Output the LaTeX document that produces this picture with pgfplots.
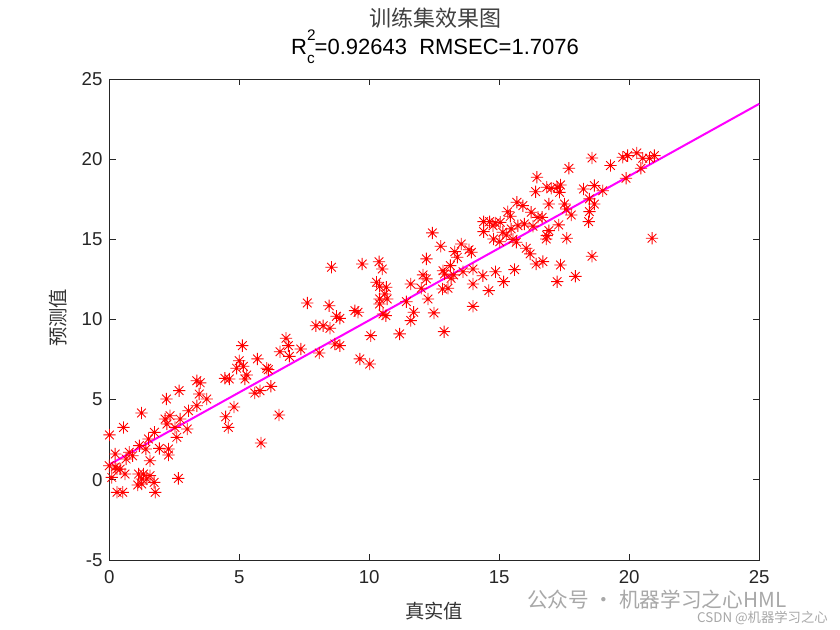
\documentclass[border=0pt]{standalone}
\usepackage{fontspec}
\setmainfont{Liberation Sans}
\newfontfamily\cjk{Noto Sans CJK SC}
\usepackage{pgfplots}
\pgfplotsset{compat=1.18}
\pgfdeclareplotmark{ast8}{%
  \pgfpathmoveto{\pgfqpoint{-\pgfplotmarksize}{0pt}}\pgfpathlineto{\pgfqpoint{\pgfplotmarksize}{0pt}}%
  \pgfpathmoveto{\pgfqpoint{0pt}{-\pgfplotmarksize}}\pgfpathlineto{\pgfqpoint{0pt}{\pgfplotmarksize}}%
  \pgfpathmoveto{\pgfqpoint{-.707\pgfplotmarksize}{-.707\pgfplotmarksize}}\pgfpathlineto{\pgfqpoint{.707\pgfplotmarksize}{.707\pgfplotmarksize}}%
  \pgfpathmoveto{\pgfqpoint{-.707\pgfplotmarksize}{.707\pgfplotmarksize}}\pgfpathlineto{\pgfqpoint{.707\pgfplotmarksize}{-.707\pgfplotmarksize}}%
  \pgfusepathqstroke}
\definecolor{axgray}{HTML}{262626}
\definecolor{wm}{HTML}{A8A8A8}
\definecolor{mag}{HTML}{FF00FF}
\definecolor{mred}{HTML}{FF0000}
\begin{document}
\begin{tikzpicture}
\begin{scope}[x=0.75pt,y=0.75pt]
\useasboundingbox (0,0) rectangle (840,630);
\fill[white] (0,0) rectangle (840,630);
\end{scope}
\begin{axis}[
  at={(81.9pt,52.5pt)}, anchor=south west,
  scale only axis, width=487.5pt, height=360.75pt,
  xmin=0, xmax=25, ymin=-5, ymax=25,
  xtick={0,5,...,25}, ytick={-5,0,...,25},
  tick align=inside, major tick length=4.8pt,
  axis line style={axgray, line width=0.6pt},
  every tick/.style={axgray, line width=0.6pt},
  tick label style={font=\fontsize{14}{14}\selectfont, text=axgray},
  /pgf/number format/assume math mode=true,
  xticklabel style={yshift=-6.5pt, inner ysep=1pt},
  yticklabel style={xshift=-1.5pt},
  clip=false,
]
\addplot[only marks, mark=ast8, mark size=4.6pt, color=mred, line width=0.65pt] coordinates {
(0.01,2.8) (0.55,3.27) (1.24,4.17) (2.2,5.04) (2.69,5.56) (3.37,6.18) (3.5,6.05)
(3.46,5.35) (3.75,5.04) (3.05,4.31) (3.37,4.62) (2.34,4.0) (2.15,3.79) (2.22,3.48)
(2.73,3.79) (3.0,3.17) (2.53,3.27) (2.6,2.65) (1.74,2.96) (1.51,2.55) (1.16,2.13)
(1.93,1.96) (2.28,1.92) (2.28,1.55) (1.41,1.92) (1.57,1.19) (0.77,1.72) (0.9,1.5)
(0.65,1.3) (0.23,1.61) (0.0,0.88) (0.23,0.8) (0.3,0.67) (0.42,0.67) (0.1,0.15)
(0.61,0.36) (1.13,0.36) (1.32,0.36) (1.57,0.26) (1.25,0.05) (1.45,0.05) (1.1,-0.32)
(1.25,-0.26) (1.73,-0.16) (2.66,0.09) (0.3,-0.78) (0.52,-0.78) (1.77,-0.78)
(4.48,3.93) (4.58,3.27) (4.8,4.54)
(10.28,12.32) (10.4,10.97) (10.06,8.99) (9.64,7.54) (10.02,7.22) (9.45,10.55) (9.57,10.45)
(8.74,10.2) (8.87,10.07) (8.46,10.86) (7.62,11.03) (7.95,9.61) (8.23,9.61) (8.49,9.45)
(8.68,8.47) (8.87,8.37) (8.08,7.91) (7.37,8.16) (6.8,8.83) (6.89,8.37) (6.57,7.99)
(6.93,7.7) (5.12,8.37) (5.7,7.54) (5.0,7.43) (4.9,6.96) (5.16,7.08) (5.29,6.54)
(5.22,6.29) (6.06,6.96) (6.12,6.87) (4.45,6.33) (4.62,6.29) (6.22,5.83) (5.6,5.41)
(5.8,5.56) (6.53,4.04) (5.84,2.3)
(8.55,13.26) (9.73,13.46) (10.38,13.6) (10.5,13.15) (10.4,12.07) (10.66,12.01)
(10.6,11.59) (10.69,11.28) (10.4,11.28) (10.53,10.34) (10.64,10.24) (11.17,9.1)
(11.43,11.11) (11.6,12.21) (11.71,10.45) (11.6,9.93) (12.26,11.28) (12.07,12.78)
(12.2,12.53) (12.2,13.78) (12.43,15.4) (12.0,11.95) (12.49,10.41) (12.88,9.24)
(12.75,14.57) (12.84,13.04) (12.9,12.84) (12.82,11.9) (13.03,11.95) (13.15,12.57)
(13.25,12.78) (13.12,13.36) (13.29,14.23) (13.39,13.88) (13.54,14.71) (13.61,12.98)
(13.84,14.35) (13.93,14.19) (13.99,13.15) (13.99,12.21) (13.99,10.82) (14.37,12.73)
(14.6,11.8) (14.86,12.98) (15.17,12.36) (14.4,16.1) (14.63,16.1) (14.85,16.02)
(14.4,15.48) (14.78,15.02) (15.02,14.85) (15.04,16.06) (15.33,16.72) (15.14,15.44)
(15.27,15.27)
(18.57,20.07) (19.28,19.6) (19.75,20.12) (19.94,20.22) (20.29,20.39) (20.52,20.06)
(20.78,20.06) (20.97,20.22) (20.45,19.43) (19.88,18.81) (20.88,15.07) (17.68,19.43)
(16.45,18.87) (16.4,17.97) (16.83,18.25) (17.0,18.18) (17.23,18.25) (17.32,17.93)
(17.36,18.39) (16.91,17.2) (15.68,17.31) (15.91,17.1) (15.43,16.44) (16.23,16.69)
(16.49,16.37) (16.65,16.37) (17.51,17.2) (17.58,16.89) (17.77,16.52) (18.24,18.14)
(18.66,18.35) (18.98,18.03) (18.47,17.52) (18.66,17.2) (18.47,16.73) (18.44,16.1)
(14.76,15.85) (15.46,15.65) (15.72,15.85) (15.53,15.0) (15.66,14.82) (15.97,15.96)
(16.3,15.82) (17.29,15.9) (16.91,15.54) (16.83,15.23) (16.81,15.02) (17.6,15.07)
(16.04,14.44) (16.19,14.09) (16.42,13.46) (16.68,13.61) (17.36,13.4) (18.57,13.94)
(15.59,13.11) (17.23,12.36) (17.93,12.69)
};
\addplot[color=mag, line width=1.5pt] coordinates {(0,0.95) (25,23.45)};
\end{axis}
\begin{scope}[x=0.75pt,y=0.75pt]
\node[text=black!75, font=\cjk\fontsize{16.5}{16.5}\selectfont] at (435,612) {训练集效果图};
\node[text=black, font=\fontsize{16.5}{16.5}\selectfont] at (435,583) {R\makebox[0pt][l]{\raisebox{0.62em}{\fontsize{11.5}{11.5}\selectfont 2}}\raisebox{-0.42em}{\fontsize{11.5}{11.5}\selectfont c}=0.92643\ \ RMSEC=1.7076};
\node[text=black!80, font=\cjk\fontsize{14.5}{14.5}\selectfont] at (434,19) {真实值};
\node[text=black!80, font=\cjk\fontsize{14.5}{14.5}\selectfont, rotate=90] at (58,312) {预测值};
\node[text=wm, font=\cjk\fontsize{15.5}{15.5}\selectfont, anchor=west, inner sep=0pt] at (527,30) {公众号 · 机器学习之心HML};
\node[text=wm, font=\cjk\fontsize{10}{10}\selectfont, anchor=east, inner sep=0pt] at (828,12) {CSDN @机器学习之心};
\end{scope}
\end{tikzpicture}
\end{document}
